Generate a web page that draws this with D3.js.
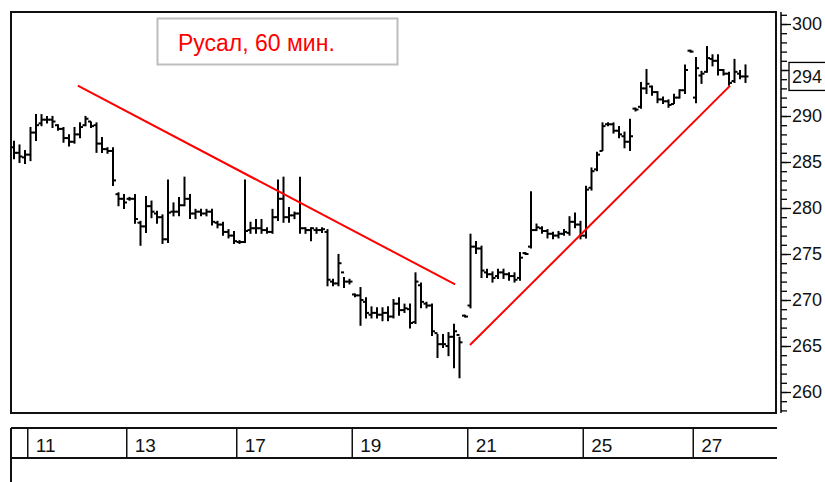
<!DOCTYPE html>
<html lang="ru">
<head>
<meta charset="UTF-8">
<title>Русал, 60 мин.</title>
<script src="https://d3js.org/d3.v7.min.js"></script>
<style>
  body { margin: 0; background: #fff; }
  svg { display: block; font-family: "Liberation Sans", Arial, sans-serif; }
  .bar { stroke: #000; stroke-width: 2; fill: none; }
  .trend { stroke: #f00; stroke-width: 2; fill: none; }
  .frame { fill: none; stroke: #111; stroke-width: 2; }
</style>
</head>
<body>
<svg width="825" height="482"></svg>
<script>
// trading days and hourly bars per day
const days = ["10", "11", "12", "13", "14", "17", "18", "19", "20", "21", "24", "25", "26", "27"];
const barsPerDay = [3, 9, 9, 10, 10, 10, 11, 10, 11, 10, 11, 10, 10, 10];
const labeledDays = ["11", "13", "17", "19", "21", "25", "27"];

const opens = [286.6,286.0,285.5,285.8,288.2,289.2,289.6,289.6,289.0,288.6,287.6,287.2,288.0,289.0,289.4,289.0,287.0,286.4,286.2,281.5,
  281.0,281.0,281.0,278.4,278.0,280.2,279.4,279.0,276.6,279.6,279.6,280.3,281.0,279.4,279.6,279.4,279.6,278.4,278.2,277.4,
  277.0,276.3,276.3,277.6,277.8,277.8,277.6,277.4,279.0,281.0,279.0,279.2,279.4,277.8,277.6,277.6,277.6,277.4,272.0,271.8,
  273.0,272.0,270.6,270.5,269.8,268.4,268.6,268.4,268.6,268.2,269.6,268.9,269.0,267.6,271.6,269.6,269.4,266.4,265.2,265.0,
  266.0,266.2,268.3,269.4,275.8,275.6,273.0,272.8,272.6,273.0,272.8,272.6,272.4,275.1,275.8,277.6,277.8,277.5,277.2,277.0,
  277.2,277.3,278.5,278.2,277.0,282.2,284.2,286.2,289.1,289.1,288.4,287.8,287.2,290.8,291.0,293.0,293.2,292.6,291.8,291.6,
  291.3,292.0,292.8,297.1,292.0,294.4,294.8,296.2,296.0,295.0,294.6,293.8,294.6,294.3];
const highs = [287.2,286.8,286.2,288.7,290.1,290.1,289.9,289.9,289.0,288.7,287.9,288.7,289.2,289.9,289.3,289.2,287.6,286.5,286.5,281.6,
  281.4,281.1,281.4,278.5,281.2,280.7,279.6,279.2,283.0,280.5,281.1,283.3,281.4,279.8,279.8,279.8,279.8,278.5,278.4,277.6,
  277.4,276.4,283.0,278.4,278.7,278.7,277.8,279.8,283.0,283.3,280.0,279.5,283.3,277.8,277.8,277.8,277.8,277.6,272.2,274.9,
  272.4,272.2,270.6,271.3,270.2,269.2,269.1,269.1,269.2,270.0,270.2,269.5,269.5,272.9,271.8,269.7,269.5,266.2,266.2,266.4,
  267.3,265.9,268.3,277.1,276.3,275.8,273.3,273.0,273.3,273.3,272.9,272.9,275.1,275.1,281.7,278.2,277.9,277.6,277.3,277.4,
  277.6,279.0,279.4,278.5,282.3,284.3,286.0,289.2,289.2,289.2,288.8,288.2,289.6,290.8,293.6,295.0,293.2,292.6,292.0,291.7,
  292.3,292.8,295.5,297.1,296.3,294.8,297.5,296.6,296.6,295.0,294.7,296.1,294.9,295.5];
const lows = [285.4,285.0,284.9,285.2,287.4,289.0,289.3,288.8,288.5,287.2,286.8,287.1,287.7,289.0,288.8,286.1,286.1,286.0,282.5,280.3,
  280.0,280.9,278.4,276.0,277.4,279.0,278.4,276.2,276.3,279.2,279.2,280.3,278.9,278.9,279.2,279.2,278.2,277.9,277.1,276.8,
  276.2,276.2,276.3,277.3,277.3,277.3,277.3,277.3,278.7,278.5,278.5,278.9,277.3,277.3,276.5,277.3,277.4,271.6,271.6,271.6,
  271.4,271.8,270.4,267.3,268.1,268.1,268.1,267.8,267.8,268.1,268.4,268.7,267.0,267.5,269.2,269.2,266.2,263.8,264.9,264.0,
  262.7,261.6,268.2,269.2,275.1,272.5,272.5,272.0,272.4,272.4,272.2,272.0,272.2,275.0,275.7,277.6,277.3,276.8,276.7,276.8,
  277.1,277.1,277.9,276.7,276.8,282.0,284.1,286.3,289.0,288.2,287.7,286.6,286.3,290.6,290.9,292.5,292.3,291.5,291.4,291.0,
  291.4,292.0,292.5,297.0,291.5,293.6,294.8,295.5,294.5,294.5,293.4,293.7,294.1,293.7];
const closes = [286.0,285.6,285.8,288.2,289.0,289.6,289.6,289.4,288.6,287.6,287.2,288.0,288.8,289.7,288.9,287.0,286.4,286.2,283.0,281.0,
  280.6,281.0,278.8,278.0,280.2,279.6,279.0,276.6,279.5,279.6,280.3,281.0,279.4,279.6,279.4,279.6,278.5,278.2,277.4,277.0,
  276.4,276.3,277.5,277.8,277.8,277.6,277.4,279.0,281.0,279.0,279.2,279.4,277.8,277.6,277.8,277.6,277.7,272.2,271.8,274.0,
  272.0,272.0,270.5,270.0,268.6,268.6,268.4,268.6,268.2,269.6,268.9,269.1,267.5,272.0,269.8,269.4,266.6,265.2,265.2,266.0,
  266.6,265.4,268.2,275.8,275.6,273.2,272.8,272.4,273.0,272.8,272.6,272.2,274.6,275.0,277.6,277.9,277.5,277.2,277.0,277.2,
  277.4,278.5,278.2,277.0,282.0,284.0,285.8,288.9,289.1,288.4,288.0,287.2,287.8,290.7,293.0,293.5,292.6,291.8,291.6,291.2,
  292.0,292.8,295.0,297.0,295.2,294.6,296.3,296.0,295.0,294.6,293.6,294.8,294.3,294.3];

const priceTicks = [260, 265, 270, 275, 280, 285, 290, 295, 300];
const lastPrice = "294";
const title = "Русал, 60 мин.";

// hand-drawn trend lines as [bar index, price]
const trendDown = [[11.6, 293.3], [80.2, 271.7]];
const trendUp = [[82.9, 265.1], [130.2, 293.3]];

const bars = opens.map((o, i) => ({i: i, o: o, h: highs[i], l: lows[i], c: closes[i]}));

const svg = d3.select("svg");
const panel = {left: 11, right: 776, top: 12, bottom: 413};
const step = 5.5;

const x = d3.scaleLinear().domain([0, bars.length - 1]).range([14, 14 + step * (bars.length - 1)]);
const y = d3.scaleLinear().domain([260, 300]).range([392, 24]);

// main frame
svg.append("rect").attr("class", "frame")
  .attr("x", panel.left).attr("y", panel.top)
  .attr("width", panel.right - panel.left).attr("height", panel.bottom - panel.top);

// price axis on the right
const axisX = 781;
svg.append("line")
  .attr("x1", axisX).attr("x2", axisX).attr("y1", panel.top).attr("y2", panel.bottom)
  .attr("stroke", "#000").attr("stroke-width", 1.5);

const minor = svg.append("g").attr("transform", `translate(${axisX},0)`)
  .call(d3.axisRight(y).tickValues(d3.range(258, 302)).tickSize(6).tickFormat(""));
minor.select(".domain").remove();

// the last-price box hides the 295 label, so it is left blank
const lastValue = closes[closes.length - 1];
const major = svg.append("g").attr("transform", `translate(${axisX},0)`)
  .call(d3.axisRight(y).tickValues(priceTicks).tickSize(10).tickPadding(1)
    .tickFormat(v => Math.abs(v - lastValue) < 2 ? "" : v));
major.select(".domain").remove();
major.selectAll("text").attr("font-size", 18).attr("fill", "#111")
  .attr("font-family", "'Liberation Sans', Arial, sans-serif");
svg.selectAll(".tick line").attr("stroke", "#000").attr("stroke-width", 1.3);

// last price box
const lastY = y(lastValue);
svg.append("rect")
  .attr("x", 789).attr("y", lastY - 14).attr("width", 40).attr("height", 28)
  .attr("fill", "#fff").attr("stroke", "#000").attr("stroke-width", 1.3);
svg.append("text")
  .attr("x", 792).attr("y", lastY + 7)
  .attr("font-size", 18).attr("fill", "#111")
  .text(lastPrice);

// OHLC bars
const plot = svg.append("g");
const tick = 3;
const g = plot.selectAll("g.ohlc").data(bars).join("g").attr("class", "ohlc");
g.append("line").attr("class", "bar")
  .attr("x1", d => x(d.i)).attr("x2", d => x(d.i))
  .attr("y1", d => y(d.h) - 1).attr("y2", d => y(d.l) + 1);
g.append("line").attr("class", "bar")
  .attr("x1", d => x(d.i) - tick).attr("x2", d => x(d.i))
  .attr("y1", d => y(d.o)).attr("y2", d => y(d.o));
g.append("line").attr("class", "bar")
  .attr("x1", d => x(d.i)).attr("x2", d => x(d.i) + tick)
  .attr("y1", d => y(d.c)).attr("y2", d => y(d.c));

// trend lines
const line = d3.line().x(d => x(d[0])).y(d => y(d[1]));
[trendDown, trendUp].forEach(t => {
  svg.append("path").attr("class", "trend").attr("d", line(t));
});

// title box
svg.append("rect")
  .attr("x", 157.5).attr("y", 18.5).attr("width", 240).attr("height", 46)
  .attr("fill", "#fff").attr("stroke", "#bdbdbd").attr("stroke-width", 2);
svg.append("text")
  .attr("x", 178).attr("y", 51)
  .attr("font-size", 23).attr("fill", "#f00")
  .text(title);

// date panel
const dateTop = 428, dateBottom = 458;
svg.append("line").attr("x1", panel.left).attr("x2", panel.right + 1)
  .attr("y1", dateTop).attr("y2", dateTop).attr("stroke", "#111").attr("stroke-width", 2);
svg.append("line").attr("x1", panel.left).attr("x2", panel.right + 1)
  .attr("y1", dateBottom).attr("y2", dateBottom).attr("stroke", "#111").attr("stroke-width", 2);
svg.append("line").attr("x1", panel.left).attr("x2", panel.left)
  .attr("y1", dateTop).attr("y2", 482).attr("stroke", "#111").attr("stroke-width", 2);

const starts = d3.cumsum([0].concat(barsPerDay.slice(0, -1)));
const dayMarks = days.map((d, k) => ({day: d, start: starts[k]}))
  .filter(d => labeledDays.includes(d.day));

const dg = svg.selectAll("g.day").data(dayMarks).join("g").attr("class", "day")
  .attr("transform", d => `translate(${x(d.start) - step / 2},0)`);
dg.append("line").attr("y1", dateTop).attr("y2", dateBottom)
  .attr("stroke", "#111").attr("stroke-width", 1.5);
dg.append("text").attr("x", 8).attr("y", 452)
  .attr("font-size", 19).attr("fill", "#111")
  .text(d => d.day);
</script>
</body>
</html>
